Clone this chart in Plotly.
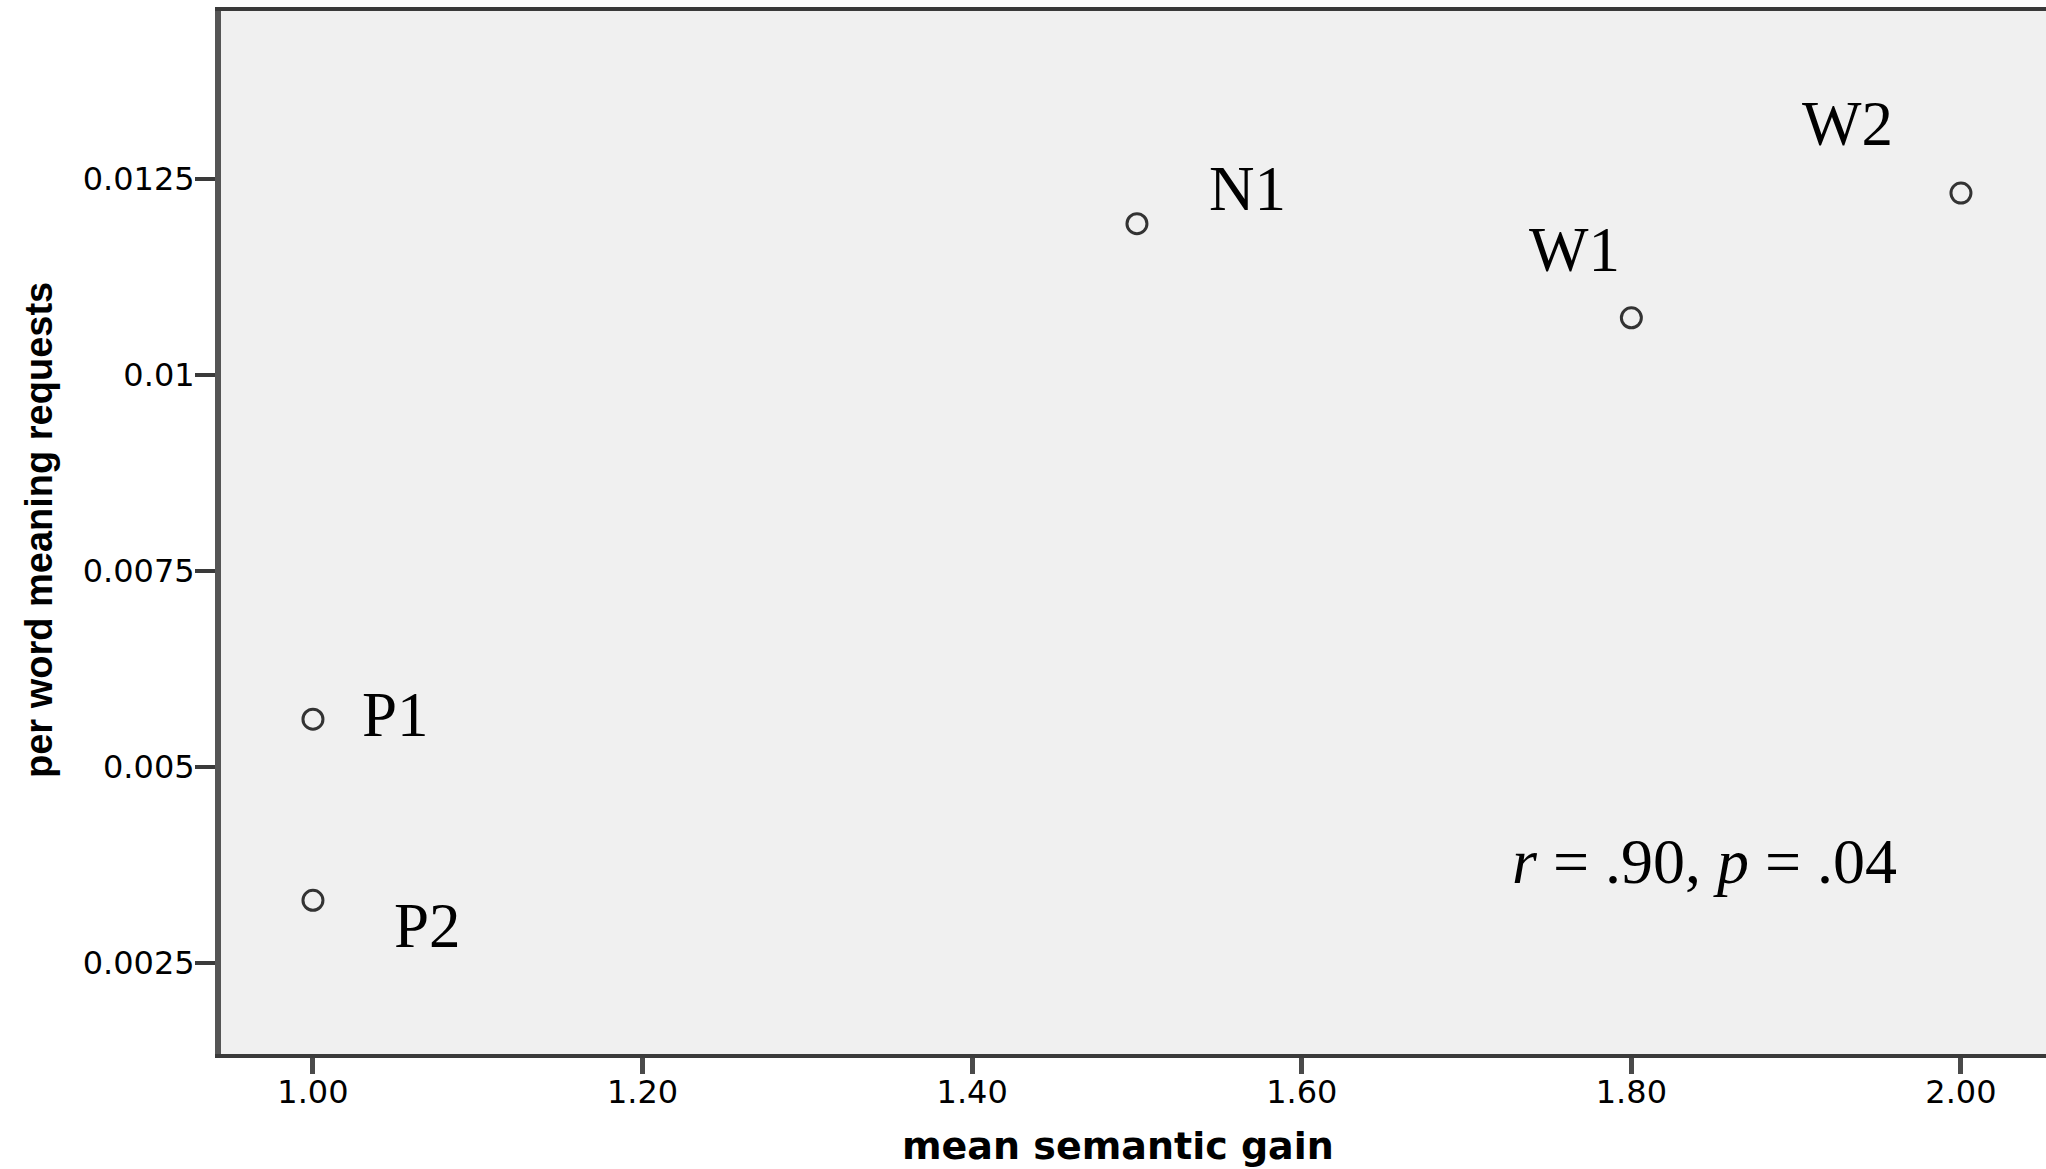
import plotly.graph_objects as go

# Data
groups = ["P1", "P2", "N1", "W1", "W2"]
semantic_gain = [1.00, 1.00, 1.50, 1.80, 2.00]
meaning_requests = [0.00561, 0.00330, 0.01193, 0.01073, 0.01232]

x_tickvals = [1.0, 1.2, 1.4, 1.6, 1.8, 2.0]
x_ticktext = ["1.00", "1.20", "1.40", "1.60", "1.80", "2.00"]
y_tickvals = [0.0025, 0.005, 0.0075, 0.01, 0.0125]
y_ticktext = ["0.0025", "0.005", "0.0075", "0.01", "0.0125"]

# label offsets in pixels (style)
label_shift = {
    "P1": (47, 4, "left"),
    "P2": (79, -26, "left"),
    "N1": (70, 35, "left"),
    "W1": (-57, 68, "center"),
    "W2": (-113, 69, "center"),
}

fig = go.Figure()
fig.add_trace(go.Scatter(
    x=semantic_gain, y=meaning_requests, mode="markers",
    marker=dict(symbol="circle-open", size=20, color="#333333",
                line=dict(width=3, color="#333333")),
    showlegend=False, hoverinfo="skip",
))

for g, xv, yv in zip(groups, semantic_gain, meaning_requests):
    dx, dy, anchor = label_shift[g]
    fig.add_annotation(
        x=xv, y=yv, text=g, showarrow=False,
        xanchor=anchor, yanchor="middle", xshift=dx, yshift=dy,
        font=dict(family="Liberation Serif", size=63, color="black"),
    )

fig.add_annotation(
    x=1.8445, y=0.0038, xref="x", yref="y",
    text="<i>r</i> = .90, <i>p</i> = .04", showarrow=False,
    xanchor="center", yanchor="middle",
    font=dict(family="Liberation Serif", size=64, color="black"),
)

# axis titles
fig.add_annotation(
    x=0.4915, y=-0.088, xref="paper", yref="paper",
    text="<b>mean semantic gain</b>", showarrow=False,
    xanchor="center", yanchor="middle",
    font=dict(family="DejaVu Sans", size=38, color="black"),
)
fig.add_annotation(
    x=-0.0997, y=0.5024, xref="paper", yref="paper",
    text="<b>per word meaning requests</b>", showarrow=False, textangle=-90,
    xanchor="center", yanchor="middle",
    font=dict(family="Liberation Sans", size=38, color="black"),
)

fig.update_layout(
    width=2046, height=1169,
    margin=dict(l=221, r=0, t=11, b=115),
    paper_bgcolor="white", plot_bgcolor="#f0f0f0",
    xaxis=dict(
        range=[0.9442, 2.0516], tickvals=x_tickvals, ticktext=x_ticktext,
        showgrid=False, zeroline=False,
        showline=True, linecolor="#3a3a3a", linewidth=4, mirror=True,
        ticks="outside", ticklen=16, tickwidth=5, tickcolor="#4a4a4a",
        ticklabelstandoff=-9,
        tickfont=dict(family="DejaVu Sans", size=32, color="black"),
    ),
    yaxis=dict(
        range=[0.001339, 0.014643], tickvals=y_tickvals, ticktext=y_ticktext,
        showgrid=False, zeroline=False,
        showline=True, linecolor="#555555", linewidth=6,
        ticks="outside", ticklen=20, tickwidth=4, tickcolor="#3a3a3a",
        ticklabelstandoff=-6,
        tickfont=dict(family="DejaVu Sans", size=32, color="black"),
    ),
)

fig.write_html("out.html")
